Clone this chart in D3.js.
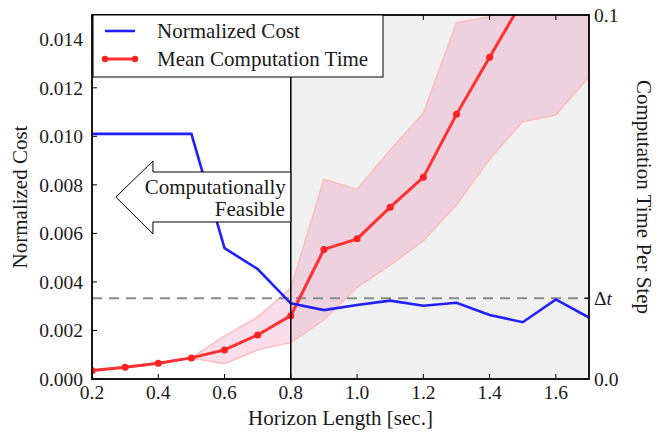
<!DOCTYPE html>
<html>
<head>
<meta charset="utf-8">
<script src="https://cdn.jsdelivr.net/npm/d3@7"></script>
<style>
  body { margin: 0; background: #fff; }
</style>
</head>
<body>
<svg id="chart" width="667" height="432"></svg>
<script>
const horizon = [0.2, 0.3, 0.4, 0.5, 0.6, 0.7, 0.8, 0.9, 1.0, 1.1, 1.2, 1.3, 1.4, 1.5, 1.6, 1.7];
const normCost = [0.0101, 0.0101, 0.0101, 0.0101, 0.00539, 0.00453, 0.00312, 0.00284, 0.00305, 0.00323, 0.00302, 0.00314, 0.00264, 0.00234, 0.00328, 0.00253];
const meanTime = [0.0023, 0.0032, 0.0043, 0.0058, 0.0080, 0.0121, 0.0174, 0.0356, 0.0385, 0.0472, 0.0554, 0.0727, 0.0884, 0.104, 0.125, 0.15];
const upperTime = [0.0025, 0.0033, 0.0044, 0.0058, 0.0118, 0.0170, 0.0249, 0.0549, 0.0521, 0.0629, 0.0730, 0.0979, 0.0995, 0.115, 0.13, 0.15];
const lowerTime = [0.0021, 0.0031, 0.0042, 0.0058, 0.0042, 0.0080, 0.0100, 0.0162, 0.0252, 0.0313, 0.0380, 0.0478, 0.0604, 0.0707, 0.0725, 0.0830];
const xTicks = [0.2, 0.4, 0.6, 0.8, 1.0, 1.2, 1.4, 1.6];
const leftTicks = [0, 0.002, 0.004, 0.006, 0.008, 0.010, 0.012, 0.014];
const deltaT = 0.0222;
const feasibleLimit = 0.8;
// arrow outline in data units (x, normalized cost)
const arrowShape = [[0.8, 0.00853], [0.384, 0.00853], [0.384, 0.00898], [0.272, 0.0075], [0.384, 0.00598], [0.384, 0.00647], [0.8, 0.00647]];

const svg = d3.select("#chart")
  .attr("font-family", "Liberation Serif")
  .style("font-family", "'Liberation Serif', serif");
const pLeft = 92, pRight = 589, pTop = 15, pBottom = 379;
const fs = "21px";      // titles, legend, annotation
const tickFs = "19.5px"; // tick labels

const x = d3.scaleLinear().domain([0.2, 1.7]).range([pLeft, pRight]);
const yL = d3.scaleLinear().domain([0, 0.015]).range([pBottom, pTop]);
const yR = d3.scaleLinear().domain([0, 0.1]).range([pBottom, pTop]);

svg.append("defs").append("clipPath").attr("id", "plot-clip")
  .append("rect").attr("x", pLeft).attr("y", pTop).attr("width", pRight - pLeft).attr("height", pBottom - pTop);

const plot = svg.append("g").attr("clip-path", "url(#plot-clip)");

// infeasible region
plot.append("rect")
  .attr("x", x(feasibleLimit)).attr("y", pTop)
  .attr("width", x(1.7) - x(feasibleLimit)).attr("height", pBottom - pTop)
  .attr("fill", "#f0f0f0");

const pts = horizon.map((h, i) => ({ h, c: normCost[i], m: meanTime[i], lo: lowerTime[i], hi: upperTime[i] }));

// spread band
plot.append("path").datum(pts)
  .attr("d", d3.area().x(d => x(d.h)).y0(d => yR(d.lo)).y1(d => yR(d.hi)))
  .attr("fill", "#e0559a").attr("fill-opacity", 0.2)
  .attr("stroke", "#ffbcbc").attr("stroke-width", 1.5);

// delta t reference
plot.append("line")
  .attr("x1", pLeft).attr("x2", pRight).attr("y1", yR(deltaT)).attr("y2", yR(deltaT))
  .attr("stroke", "#8a8a8a").attr("stroke-width", 2).attr("stroke-dasharray", "10,7");

// mean time
plot.append("path").datum(pts)
  .attr("d", d3.line().x(d => x(d.h)).y(d => yR(d.m)))
  .attr("fill", "none").attr("stroke", "#ff3030").attr("stroke-width", 3);
plot.selectAll(".dot").data(pts).enter().append("circle")
  .attr("class", "dot")
  .attr("cx", d => x(d.h)).attr("cy", d => yR(d.m)).attr("r", 3.5)
  .attr("fill", "#ff2020");

// normalized cost
plot.append("path").datum(pts)
  .attr("d", d3.line().x(d => x(d.h)).y(d => yL(d.c)))
  .attr("fill", "none").attr("stroke", "#2020ff").attr("stroke-width", 2.6);

// feasibility boundary
svg.append("line")
  .attr("x1", x(feasibleLimit)).attr("x2", x(feasibleLimit)).attr("y1", pTop).attr("y2", pBottom)
  .attr("stroke", "#000").attr("stroke-width", 1.5);

// arrow annotation
svg.append("path")
  .attr("d", d3.line().x(d => x(d[0])).y(d => yL(d[1]))(arrowShape) + "Z")
  .attr("fill", "#fff").attr("stroke", "#000").attr("stroke-width", 1);
const arrowText = svg.append("text").attr("text-anchor", "end").attr("font-size", fs).attr("fill", "#1a1a1a");
arrowText.append("tspan").attr("x", x(feasibleLimit) - 5).attr("y", 194).text("Computationally");
arrowText.append("tspan").attr("x", x(feasibleLimit) - 6).attr("y", 216).text("Feasible");

// ticks (inward, all sides)
const tickLen = 5;
const ticks = svg.append("g").attr("stroke", "#000").attr("stroke-width", 1);
xTicks.forEach(t => {
  ticks.append("line").attr("x1", x(t)).attr("x2", x(t)).attr("y1", pBottom).attr("y2", pBottom - tickLen);
  ticks.append("line").attr("x1", x(t)).attr("x2", x(t)).attr("y1", pTop).attr("y2", pTop + tickLen);
});
leftTicks.forEach(t => {
  ticks.append("line").attr("x1", pLeft).attr("x2", pLeft + tickLen).attr("y1", yL(t)).attr("y2", yL(t));
});
[0, deltaT, 0.1].forEach(t => {
  ticks.append("line").attr("x1", pRight).attr("x2", pRight - tickLen).attr("y1", yR(t)).attr("y2", yR(t));
});

// frame
svg.append("rect").attr("x", pLeft).attr("y", pTop).attr("width", pRight - pLeft).attr("height", pBottom - pTop)
  .attr("fill", "none").attr("stroke", "#000").attr("stroke-width", 1.8);

// tick labels
const labels = svg.append("g").attr("font-size", tickFs).attr("fill", "#1a1a1a");
labels.selectAll(".xl").data(xTicks).enter().append("text")
  .attr("x", d => x(d)).attr("y", pBottom + 20).attr("text-anchor", "middle")
  .text(d3.format(".1f"));
labels.selectAll(".yl").data(leftTicks).enter().append("text")
  .attr("x", pLeft - 9).attr("y", d => yL(d) + 7).attr("text-anchor", "end")
  .text(d3.format(".3f"));
labels.append("text").attr("x", pRight + 5).attr("y", yR(0.1) + 7).text("0.1");
labels.append("text").attr("x", pRight + 5).attr("y", yR(0) + 7).text("0.0");
const dt = labels.append("text").attr("x", pRight + 5).attr("y", yR(deltaT) + 7);
dt.append("tspan").text("Δ");
dt.append("tspan").attr("font-style", "italic").text("t");

// axis titles
const titles = svg.append("g").attr("font-size", fs).attr("fill", "#1a1a1a");
titles.append("text").attr("x", (pLeft + pRight) / 2).attr("y", 425).attr("text-anchor", "middle")
  .text("Horizon Length [sec.]");
titles.append("text").attr("transform", `translate(27,${(pTop + pBottom) / 2}) rotate(-90)`)
  .attr("text-anchor", "middle").text("Normalized Cost");
titles.append("text").attr("transform", `translate(637,${(pTop + pBottom) / 2}) rotate(90)`)
  .attr("text-anchor", "middle").text("Computation Time Per Step");

// legend
const lg = svg.append("g").attr("transform", `translate(${pLeft + 1},${pTop})`);
lg.append("rect").attr("width", 290).attr("height", 62).attr("fill", "#fff").attr("stroke", "#000").attr("stroke-width", 1);
lg.append("line").attr("x1", 12).attr("x2", 42).attr("y1", 16).attr("y2", 16).attr("stroke", "#2020ff").attr("stroke-width", 2.6);
lg.append("text").attr("x", 64).attr("y", 23).attr("font-size", fs).attr("fill", "#1a1a1a").text("Normalized Cost");
lg.append("line").attr("x1", 12).attr("x2", 42).attr("y1", 44).attr("y2", 44).attr("stroke", "#ff3030").attr("stroke-width", 3);
[12, 42].forEach(cx => lg.append("circle").attr("cx", cx).attr("cy", 44).attr("r", 3.2).attr("fill", "#ff2020"));
lg.append("text").attr("x", 64).attr("y", 51).attr("font-size", fs).attr("fill", "#1a1a1a").text("Mean Computation Time");
</script>
</body>
</html>
